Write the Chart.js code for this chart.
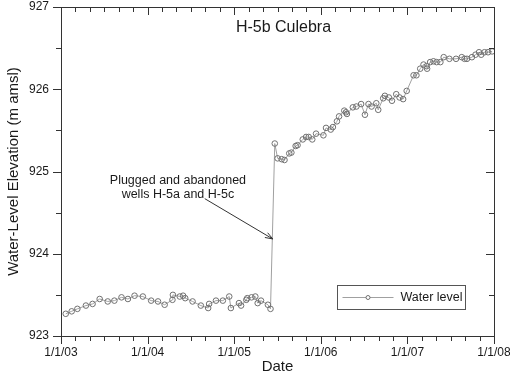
<!DOCTYPE html>
<html>
<head>
<meta charset="utf-8">
<script src="https://cdn.jsdelivr.net/npm/chart.js@4/dist/chart.umd.min.js"></script>
<style>
  html, body { margin: 0; padding: 0; background: #fff; }
  #wrap { width: 510px; height: 376px; }
</style>
</head>
<body>
<div id="wrap"><canvas id="myChart" width="510" height="376"></canvas></div>
<script>
var dates = [
    "2003-01-21", "2003-02-15", "2003-03-11", "2003-04-16", "2003-05-14", "2003-06-13",
    "2003-07-17", "2003-08-14", "2003-09-13", "2003-10-10", "2003-11-07", "2003-12-12",
    "2004-01-16", "2004-02-14", "2004-03-13", "2004-04-15", "2004-04-17", "2004-05-16",
    "2004-05-30", "2004-06-08", "2004-07-09", "2004-08-13", "2004-09-13", "2004-09-17",
    "2004-10-16", "2004-11-14", "2004-12-11", "2004-12-18", "2005-01-21", "2005-01-30",
    "2005-02-21", "2005-02-25", "2005-03-15", "2005-03-31", "2005-04-10", "2005-04-24",
    "2005-05-23", "2005-06-03", "2005-06-21", "2005-07-03", "2005-07-20", "2005-08-01",
    "2005-08-21", "2005-08-30", "2005-09-17", "2005-09-25", "2005-10-17", "2005-10-31",
    "2005-11-11", "2005-11-26", "2005-12-12", "2006-01-12", "2006-01-23", "2006-02-12",
    "2006-02-21", "2006-03-10", "2006-03-19", "2006-04-10", "2006-04-17", "2006-04-21",
    "2006-05-16", "2006-05-31", "2006-06-20", "2006-07-06", "2006-07-21", "2006-08-03",
    "2006-08-23", "2006-08-31", "2006-09-21", "2006-09-28", "2006-10-15", "2006-10-28",
    "2006-11-15", "2006-11-29", "2006-12-14", "2006-12-29", "2007-01-27", "2007-02-08",
    "2007-02-24", "2007-03-10", "2007-03-23", "2007-03-25", "2007-04-07", "2007-04-21",
    "2007-05-04", "2007-05-20", "2007-06-03", "2007-06-27", "2007-07-25", "2007-08-18",
    "2007-08-30", "2007-09-09", "2007-09-30", "2007-10-15", "2007-10-30", "2007-11-08",
    "2007-11-22", "2007-12-07", "2007-12-24"
];
var levels = [
    923.27, 923.30, 923.33, 923.37, 923.39, 923.45,
    923.42, 923.43, 923.47, 923.45, 923.49, 923.48,
    923.43, 923.42, 923.38, 923.44, 923.50, 923.48,
    923.49, 923.46, 923.42, 923.37, 923.34, 923.39,
    923.43, 923.43, 923.48, 923.34, 923.40, 923.37,
    923.44, 923.46, 923.47, 923.48, 923.40, 923.43,
    923.38, 923.33, 925.34, 925.16, 925.15, 925.14,
    925.22, 925.23, 925.31, 925.32, 925.39, 925.42,
    925.42, 925.39, 925.46, 925.44, 925.53, 925.51,
    925.54, 925.61, 925.67, 925.74, 925.72, 925.70,
    925.78, 925.79, 925.82, 925.69, 925.82, 925.79,
    925.83, 925.75, 925.89, 925.92, 925.90, 925.86,
    925.94, 925.90, 925.88, 925.98, 926.17, 926.17,
    926.25, 926.30, 926.28, 926.25, 926.33, 926.34,
    926.33, 926.33, 926.39, 926.37, 926.37, 926.39,
    926.37, 926.37, 926.39, 926.42, 926.45, 926.42,
    926.45, 926.45, 926.46
];
var xTickYears = [2003, 2004, 2005, 2006, 2007, 2008];
var xTickLabels = ["1/1/03", "1/1/04", "1/1/05", "1/1/06", "1/1/07", "1/1/08"];
var yTicks = [923, 924, 925, 926, 927];

var chartTitle = "H-5b Culebra";
var noteLines = ["Plugged and abandoned", "wells H-5a and H-5c"];
// note text anchor, arrow tail and arrow tip in data units (year, m amsl)
var notePos = [2004.35, 924.89];
var arrowFrom = [2004.66, 924.67];
var arrowTo = [2005.445, 924.18];

function toYear(s) {
    var d = Date.parse(s + "T00:00:00Z");
    var y = parseInt(s.substr(0, 4), 10);
    var a = Date.UTC(y, 0, 1), b = Date.UTC(y + 1, 0, 1);
    return y + (d - a) / (b - a);
}

var points = [];
for (var i = 0; i < dates.length; i++) {
    points.push({x: toYear(dates[i]), y: levels[i]});
}

var FONT = "Arial, 'Liberation Sans', sans-serif";
var TXT = "#1a1a1a";
var AX = "#333333";

// axes frame, major/minor ticks, title, note and legend box
var extras = {
    id: "extras",
    afterDraw: function (chart) {
        var ctx = chart.ctx;
        var ca = chart.chartArea;
        var xs = chart.scales.x, ys = chart.scales.y;
        ctx.save();
        ctx.strokeStyle = AX;
        ctx.lineWidth = 1;
        ctx.beginPath();
        ctx.rect(Math.round(ca.left) + 0.5, Math.round(ca.top) + 0.5,
                Math.round(ca.right - ca.left), Math.round(ca.bottom - ca.top));
        ctx.stroke();

        ctx.beginPath();
        var t, px, k, major;
        for (k = 0; k <= 30; k++) {
            t = 2003 + k / 6;
            px = Math.round(xs.getPixelForValue(t)) + 0.5;
            major = (k % 6 === 0);
            var bl = major ? 8 : 5;
            ctx.moveTo(px, ca.bottom);
            ctx.lineTo(px, ca.bottom + bl);
            ctx.moveTo(px, ca.top);
            ctx.lineTo(px, ca.top + bl);
        }
        for (k = 0; k <= 8; k++) {
            t = 923 + k / 2;
            var py = Math.round(ys.getPixelForValue(t)) + 0.5;
            major = (k % 2 === 0);
            var ll = major ? 8 : 5;
            ctx.moveTo(ca.left - ll, py);
            ctx.lineTo(ca.left, py);
            ctx.moveTo(ca.right, py);
            ctx.lineTo(ca.right - ll, py);
        }
        ctx.stroke();

        // title
        ctx.fillStyle = TXT;
        ctx.font = "16px " + FONT;
        ctx.textAlign = "center";
        ctx.textBaseline = "middle";
        ctx.fillText(chartTitle, (ca.left + ca.right) / 2 + 6, ca.top + 21);

        // note + arrow
        ctx.font = "12.5px " + FONT;
        var nx = xs.getPixelForValue(notePos[0]);
        var ny = ys.getPixelForValue(notePos[1]);
        ctx.fillText(noteLines[0], nx, ny);
        ctx.fillText(noteLines[1], nx, ny + 14);
        var ax0 = xs.getPixelForValue(arrowFrom[0]), ay0 = ys.getPixelForValue(arrowFrom[1]);
        var ax1 = xs.getPixelForValue(arrowTo[0]), ay1 = ys.getPixelForValue(arrowTo[1]);
        ctx.strokeStyle = "#333";
        ctx.beginPath();
        ctx.moveTo(ax0, ay0);
        ctx.lineTo(ax1, ay1);
        var ang = Math.atan2(ay1 - ay0, ax1 - ax0);
        ctx.moveTo(ax1, ay1);
        ctx.lineTo(ax1 - 8 * Math.cos(ang - 0.35), ay1 - 8 * Math.sin(ang - 0.35));
        ctx.moveTo(ax1, ay1);
        ctx.lineTo(ax1 - 8 * Math.cos(ang + 0.35), ay1 - 8 * Math.sin(ang + 0.35));
        ctx.stroke();

        // legend
        var ds = chart.data.datasets[0];
        var lx = Math.round(ca.right - 157) + 0.5, ly = Math.round(ca.bottom - 51) + 0.5;
        ctx.strokeStyle = "#555";
        ctx.strokeRect(lx, ly, 128, 24);
        ctx.strokeStyle = ds.borderColor;
        ctx.beginPath();
        ctx.moveTo(lx + 5, ly + 12);
        ctx.lineTo(lx + 56, ly + 12);
        ctx.stroke();
        ctx.fillStyle = "#fff";
        ctx.strokeStyle = ds.pointBorderColor;
        ctx.beginPath();
        ctx.arc(lx + 30.5, ly + 12, 2, 0, Math.PI * 2);
        ctx.fill();
        ctx.stroke();
        ctx.fillStyle = TXT;
        ctx.font = "12.5px " + FONT;
        ctx.textAlign = "left";
        ctx.fillText(ds.label, lx + 63, ly + 12.5);
        ctx.restore();
    }
};

var ctx = document.getElementById("myChart").getContext("2d");
var myChart = new Chart(ctx, {
    type: "scatter",
    data: {
        datasets: [{
            label: "Water level",
            data: points,
            showLine: true,
            borderColor: "#a0a0a0",
            borderWidth: 1,
            pointRadius: 2.8,
            pointBorderWidth: 1,
            pointBorderColor: "#707070",
            pointBackgroundColor: "rgba(255,255,255,0)"
        }]
    },
    options: {
        responsive: false,
        animation: false,
        layout: {padding: {top: 7, right: 16, left: 0, bottom: 0}},
        plugins: {
            legend: {display: false},
            tooltip: {enabled: false}
        },
        scales: {
            x: {
                type: "linear",
                min: 2003,
                max: 2008,
                grid: {display: false, drawTicks: false},
                border: {display: false},
                ticks: {
                    stepSize: 1,
                    padding: 9,
                    maxRotation: 0,
                    color: TXT,
                    font: {family: FONT, size: 12},
                    callback: function (v) {
                        var i = xTickYears.indexOf(Math.round(v));
                        return i >= 0 ? xTickLabels[i] : "";
                    }
                },
                title: {
                    display: true,
                    text: "Date",
                    color: TXT,
                    font: {family: FONT, size: 15},
                    padding: {top: 0, bottom: 0}
                },
                afterFit: function (s) {
                    s.height = 40;
                    s.paddingLeft = 0;
                    s.paddingRight = 0;
                }
            },
            y: {
                min: 923,
                max: 927,
                grid: {display: false, drawTicks: false},
                border: {display: false},
                ticks: {
                    stepSize: 1,
                    padding: 12,
                    color: TXT,
                    font: {family: FONT, size: 12},
                    callback: function (v) {
                        return yTicks.indexOf(v) >= 0 ? String(v) : "";
                    }
                },
                title: {
                    display: true,
                    text: "Water-Level Elevation (m amsl)",
                    color: TXT,
                    font: {family: FONT, size: 15},
                    padding: {top: 5, bottom: 0}
                },
                afterFit: function (s) {
                    s.width = 61;
                    s.paddingTop = 0;
                    s.paddingBottom = 0;
                }
            }
        }
    },
    plugins: [extras]
});
</script>
</body>
</html>
